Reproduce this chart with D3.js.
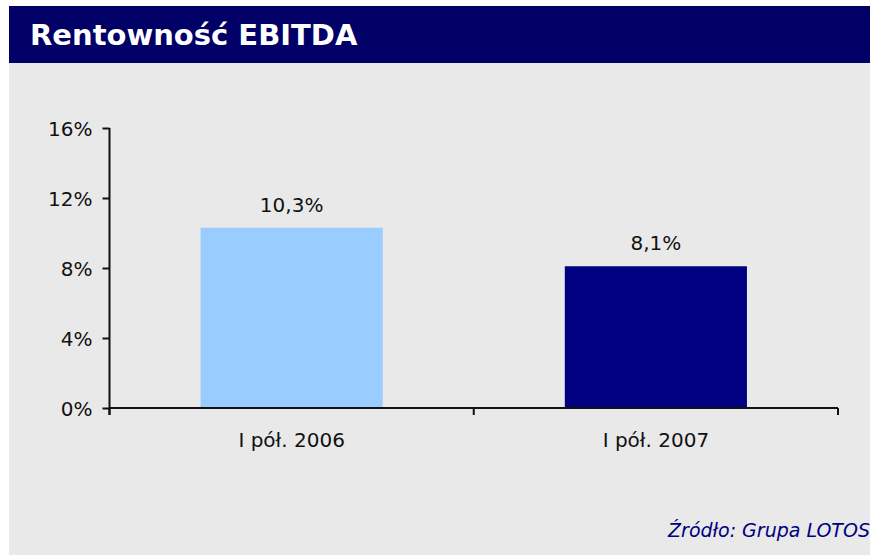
<!DOCTYPE html>
<html>
<head>
<meta charset="utf-8">
<script src="https://cdn.jsdelivr.net/npm/d3@7"></script>
<style>
  body { margin: 0; background: #fff; }
  svg text { font-family: "DejaVu Sans", Verdana, sans-serif; }
</style>
</head>
<body>
<div id="chart"></div>
<script>
// chart data
var categories = ["I pół. 2006", "I pół. 2007"];
var values = [10.3, 8.1];
var valueLabels = ["10,3%", "8,1%"];
var barColors = ["#99ccff", "#000080"];
var yTicks = [0, 4, 8, 12, 16];

var w = 870, h = 555;

var svg = d3.select("#chart")
    .append("svg")
    .attr("width", w)
    .attr("height", h);

// background panel + title bar
svg.append("rect")
    .attr("x", 9).attr("y", 6)
    .attr("width", w - 9).attr("height", h - 6)
    .attr("fill", "#e9e9e9");

svg.append("rect")
    .attr("x", 9).attr("y", 6)
    .attr("width", w - 9).attr("height", 57)
    .attr("fill", "#000066");

svg.append("text")
    .attr("x", 30).attr("y", 45)
    .attr("fill", "#fff")
    .style("font-weight", "bold")
    .style("font-size", "29px")
    .text("Rentowność EBITDA");

//scales
var x = d3.scaleBand()
    .domain(categories)
    .range([109.5, 838])
    .paddingInner(0.5)
    .paddingOuter(0.25);

var y = d3.scaleLinear()
    .domain([0, 16])
    .range([408, 128]);

// bars
svg.selectAll("rect.bar")
    .data(values)
    .enter()
    .append("rect")
    .attr("class", "bar")
    .attr("x", function (d, i) { return x(categories[i]); })
    .attr("y", function (d) { return y(d); })
    .attr("width", x.bandwidth())
    .attr("height", function (d) { return y(0) - y(d); })
    .attr("fill", function (d, i) { return barColors[i]; });

// value labels
svg.selectAll("text.val")
    .data(values)
    .enter()
    .append("text")
    .attr("class", "val")
    .attr("x", function (d, i) { return x(categories[i]) + x.bandwidth() / 2; })
    .attr("y", function (d) { return y(d) - 16; })
    .attr("text-anchor", "middle")
    .style("font-size", "20px")
    .attr("fill", "#111")
    .text(function (d, i) { return valueLabels[i]; });

// y axis
var yAxis = svg.append("g")
    .attr("transform", "translate(109.5,0)")
    .call(d3.axisLeft(y)
        .tickValues(yTicks)
        .tickSize(7)
        .tickPadding(10)
        .tickFormat(function (d) { return d + "%"; }));

yAxis.select(".domain").attr("stroke", "#111").attr("stroke-width", 2)
    .attr("d", "M0,128V415");
yAxis.selectAll(".tick line").attr("stroke", "#111").attr("stroke-width", 2);
yAxis.selectAll(".tick text")
    .style("font-size", "20px")
    .attr("fill", "#111")
    .attr("dy", "0.36em");

// x axis
var xAxis = svg.append("g")
    .attr("transform", "translate(0,408)");

xAxis.append("line")
    .attr("x1", 109.5).attr("x2", 838)
    .attr("stroke", "#111").attr("stroke-width", 2);

var sep = [109.5, x.range()[0] + (x.range()[1] - x.range()[0]) / 2, 838];
xAxis.selectAll("line.tk")
    .data(sep)
    .enter()
    .append("line")
    .attr("class", "tk")
    .attr("x1", function (d) { return d; })
    .attr("x2", function (d) { return d; })
    .attr("y1", 0).attr("y2", 7)
    .attr("stroke", "#111").attr("stroke-width", 2);

xAxis.selectAll("text")
    .data(categories)
    .enter()
    .append("text")
    .attr("x", function (d) { return x(d) + x.bandwidth() / 2; })
    .attr("y", 39)
    .attr("text-anchor", "middle")
    .style("font-size", "20px")
    .attr("fill", "#111")
    .text(function (d) { return d; });

// source
svg.append("text")
    .attr("x", 870).attr("y", 537)
    .attr("text-anchor", "end")
    .style("font-style", "italic")
    .style("font-size", "19px")
    .attr("fill", "#000080")
    .text("Źródło: Grupa LOTOS");
</script>
</body>
</html>
